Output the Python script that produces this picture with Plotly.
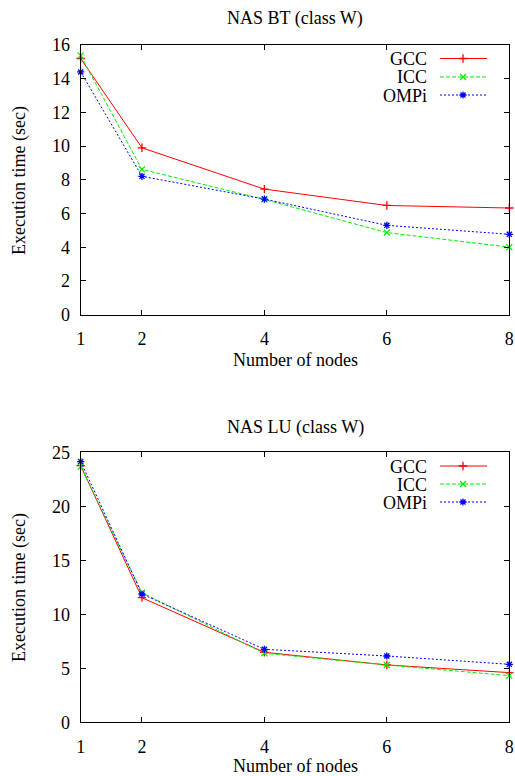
import plotly.graph_objects as go

nodes = [1, 2, 4, 6, 8]
x_ticks = [1, 2, 4, 6, 8]

bt_gcc = [15.2, 9.9, 7.45, 6.48, 6.33]
bt_icc = [15.37, 8.62, 6.84, 4.87, 4.01]
bt_ompi = [14.4, 8.21, 6.86, 5.30, 4.77]

lu_gcc = [23.77, 11.54, 6.48, 5.31, 4.60]
lu_icc = [23.67, 12.0, 6.39, 5.31, 4.32]
lu_ompi = [24.14, 11.88, 6.76, 6.14, 5.37]

series_names = ["GCC", "ICC", "OMPi"]
colors = ["#ff0000", "#00ee00", "#0000ff"]
dashes = ["solid", "4px,2px", "2px,2px"]
symbols = ["cross-thin", "x-thin", "asterisk"]

FONT = "Liberation Serif"
FS = 18
MS = 6

fig = go.Figure()

def add_series(xa, ya, data):
    for name, vals, c, d, s in zip(series_names, data, colors, dashes, symbols):
        fig.add_trace(go.Scatter(
            x=nodes, y=vals, mode="lines+markers", name=name,
            xaxis=xa, yaxis=ya, showlegend=False, cliponaxis=False,
            line=dict(color=c, width=1, dash=d),
            marker=dict(symbol=s, size=MS, color=c, line=dict(color=c, width=1.3)),
        ))

add_series("x", "y", [bt_gcc, bt_icc, bt_ompi])
add_series("x2", "y2", [lu_gcc, lu_icc, lu_ompi])

xdom = [80.7 / 515, 509.3 / 515]
top_dom = [1 - 314.7 / 776, 1 - 45 / 776]
bot_dom = [1 - 722.3 / 776, 1 - 452.3 / 776]

axis_common = dict(
    showline=True, linecolor="black", linewidth=1, mirror="ticks",
    ticks="inside", ticklen=5, tickcolor="black", tickwidth=1,
    showgrid=False, zeroline=False, automargin=False,
    tickfont=dict(family=FONT, size=FS, color="black"),
)

fig.update_layout(
    width=515, height=776,
    margin=dict(l=0, r=0, t=0, b=0, pad=0, autoexpand=False),
    paper_bgcolor="white", plot_bgcolor="rgba(0,0,0,0)",
    font=dict(family=FONT, size=FS, color="black"),
    xaxis=dict(domain=xdom, anchor="y", range=[1, 8], tickmode="array",
               tickvals=x_ticks, ticklabelstandoff=8, **axis_common),
    yaxis=dict(domain=top_dom, anchor="x", range=[0, 16], dtick=2,
               ticklabelstandoff=6, **axis_common),
    xaxis2=dict(domain=xdom, anchor="y2", range=[1, 8], tickmode="array",
                tickvals=x_ticks, ticklabelstandoff=8, **axis_common),
    yaxis2=dict(domain=bot_dom, anchor="x2", range=[0, 25], dtick=5,
                ticklabelstandoff=6, **axis_common),
    xaxis3=dict(domain=[0, 1], range=[0, 1], visible=False, anchor="y3", automargin=False),
    yaxis3=dict(domain=[0, 1], range=[0, 1], visible=False, anchor="x3", automargin=False),
    showlegend=False,
)

annotations = []
cx = (80.7 + 509.3) / 2 / 515
for title, yc in [("NAS BT (class W)", 18), ("NAS LU (class W)", 427)]:
    annotations.append(dict(text=title, x=cx, y=1 - yc / 776, xref="paper", yref="paper",
                            showarrow=False, xanchor="center", yanchor="middle",
                            font=dict(family=FONT, size=FS)))
for yc in [360, 766]:
    annotations.append(dict(text="Number of nodes", x=cx, y=1 - yc / 776, xref="paper", yref="paper",
                            showarrow=False, xanchor="center", yanchor="middle",
                            font=dict(family=FONT, size=FS)))
for yc in [181, 588]:
    annotations.append(dict(text="Execution time (sec)", x=19 / 515, y=1 - yc / 776, xref="paper",
                            yref="paper", showarrow=False, textangle=-90,
                            xanchor="center", yanchor="middle",
                            font=dict(family=FONT, size=FS)))

# legend (gnuplot style: label then sample)
shapes = []
leg_rows = [[58.5, 77, 95], [466, 484, 502]]
txt_right = 428 / 515
ln0, ln1, mk = 440 / 515, 487 / 515, 463 / 515
for rows in leg_rows:
    for name, c, d, s, yc in zip(series_names, colors, dashes, symbols, rows):
        yp = 1 - yc / 776
        annotations.append(dict(text=name, x=txt_right, y=yp, xref="paper", yref="paper",
                                showarrow=False, xanchor="right", yanchor="middle",
                                height=17, valign="middle", borderpad=0,
                                font=dict(family=FONT, size=FS)))
        shapes.append(dict(type="line", xref="paper", yref="paper", x0=ln0, x1=ln1, y0=yp, y1=yp,
                           line=dict(color=c, width=1, dash=d)))
        fig.add_trace(go.Scatter(x=[mk], y=[yp], mode="markers", xaxis="x3", yaxis="y3",
                                 showlegend=False, hoverinfo="skip",
                                 marker=dict(symbol=s, size=MS, color=c,
                                             line=dict(color=c, width=1.3))))

fig.update_layout(annotations=annotations, shapes=shapes)
fig.write_html("out.html", config={"displayModeBar": False},
               post_script="document.body.style.margin='0';")
